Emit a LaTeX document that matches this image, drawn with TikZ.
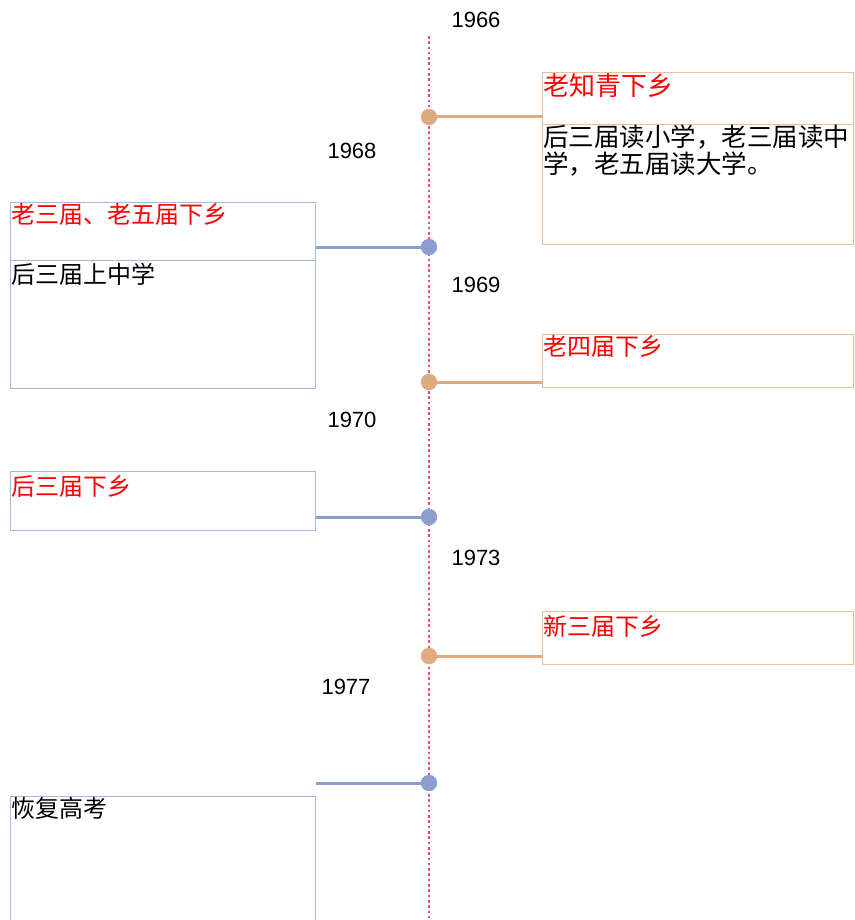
\documentclass[tikz,border=0pt]{standalone}
\usepackage{fontspec}
\newfontfamily\cjk{Noto Sans CJK SC}
\newfontfamily\lsans{Liberation Sans}
\definecolor{tline}{HTML}{EC4F72}
\definecolor{odot}{HTML}{DDAB7E}
\definecolor{obox}{HTML}{E9BE98}
\definecolor{bdot}{HTML}{8A9FD0}
\definecolor{bbox}{HTML}{A9B8E2}
\definecolor{tred}{HTML}{FF0000}
\begin{document}
\begin{tikzpicture}[x=1pt,y=-1pt,
  year/.style={font=\lsans\fontsize{22}{26}\selectfont, inner sep=0pt},
  obx/.style={draw=obox, line width=0.9pt, anchor=north west, minimum width=311pt, inner sep=0pt},
  bbx/.style={draw=bbox, line width=0.9pt, anchor=north west, minimum width=305pt, inner sep=0pt},
  dotO/.style={circle, fill=odot, minimum size=16pt, inner sep=0pt},
  dotB/.style={circle, fill=bdot, minimum size=16pt, inner sep=0pt},
  conO/.style={draw=odot, line width=3pt},
  conB/.style={draw=bdot, line width=3pt},
  ttl/.style={anchor=north west, inner sep=1pt, text=tred, font=\cjk\fontsize{24}{27}\selectfont},
  bod/.style={anchor=north west, inner sep=1pt, text=black, align=left, font=\cjk\fontsize{24}{27}\selectfont}]
\useasboundingbox (0,0) rectangle (854,920);
\fill[white] (0,0) rectangle (854,920);
\coordinate (ttop) at (429,36);
\coordinate (tbot) at (429,925);
\draw[tline, line width=2.8pt, dash pattern=on 2.6pt off 2.7pt] (ttop) -- (tbot);

% years
\node[year] (y1966) at (476,20) {1966};
\node[year] (y1968) at (352,151) {1968};
\node[year] (y1969) at (476,285) {1969};
\node[year] (y1970) at (352,420) {1970};
\node[year] (y1973) at (476,558) {1973};
\node[year] (y1977) at (346,687) {1977};

% boxes
\node[obx, minimum height=172pt] (b1) at (542,72) {};
\draw[draw=obox, line width=0.9pt] (542,124) coordinate (b1l) -- (b1l -| b1.east);
\node[ttl, font=\cjk\fontsize{26}{28}\selectfont] (t1) at (b1.north west) {老知青下乡};
\node[bod, font=\cjk\fontsize{25.5}{27}\selectfont] (d1) at (542,124) {后三届读小学，老三届读中\\学，老五届读大学。};

\node[bbx, minimum height=186pt] (b2) at (10,202) {};
\draw[draw=bbox, line width=0.9pt] (10,260) coordinate (b2l) -- (b2l -| b2.east);
\node[ttl] (t2) at (b2.north west) {老三届、老五届下乡};
\node[bod] (d2) at (10,262) {后三届上中学};

\node[obx, minimum height=53pt] (b3) at (542,334) {};
\node[ttl] (t3) at (b3.north west) {老四届下乡};

\node[bbx, minimum height=59pt] (b4) at (10,471) {};
\node[ttl] (t4) at ([yshift=-3pt]b4.north west) {后三届下乡};

\node[obx, minimum height=53pt] (b5) at (542,611) {};
\node[ttl] (t5) at ([yshift=-3pt]b5.north west) {新三届下乡};

\node[bbx, minimum height=140pt] (b6) at (10,796) {};
\node[bod] (t6) at (b6.north west) {恢复高考};

% dots
\node[dotO] (p1) at (429,117) {};
\node[dotB] (p2) at (429,247) {};
\node[dotO] (p3) at (429,382) {};
\node[dotB] (p4) at (429,517) {};
\node[dotO] (p5) at (429,656) {};
\node[dotB] (p6) at (429,783) {};

% connectors
\draw[conO] (p1.center) -- (p1 -| b1.west);
\draw[conB] (p2.center) -- (p2 -| b2.east);
\draw[conO] (p3.center) -- (p3 -| b3.west);
\draw[conB] (p4.center) -- (p4 -| b4.east);
\draw[conO] (p5.center) -- (p5 -| b5.west);
\draw[conB] (p6.center) -- (p6 -| b6.east);
\node[dotO] at (p1) {};
\node[dotB] at (p2) {};
\node[dotO] at (p3) {};
\node[dotB] at (p4) {};
\node[dotO] at (p5) {};
\node[dotB] at (p6) {};
\end{tikzpicture}
\end{document}
